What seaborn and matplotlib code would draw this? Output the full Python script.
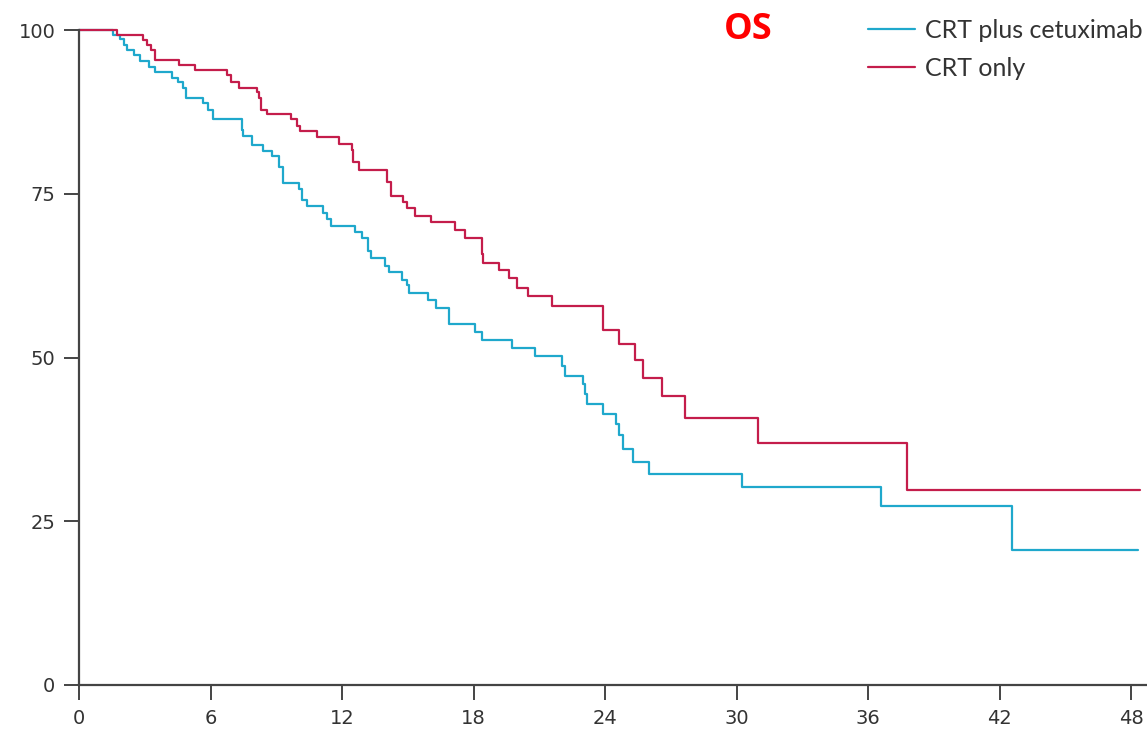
import numpy as np
import pandas as pd
import matplotlib
matplotlib.use("Agg")
import matplotlib.pyplot as plt
import seaborn as sns

# Kaplan-Meier steps (months, % surviving)
cetux_months = [0, 1.57, 1.87, 2.05, 2.18, 2.51, 2.78, 3.21, 3.47, 4.23, 4.5, 4.73, 4.88,
                5.67, 5.9, 6.1, 7.42, 7.5, 7.88, 8.38, 8.79, 9.14, 9.29, 10.05, 10.16,
                10.39, 11.15, 11.3, 11.5, 12.6, 12.9, 13.17, 13.32, 13.96, 14.16, 14.72,
                14.95, 15.07, 15.9, 16.29, 16.9, 18.07, 18.37, 19.74, 20.8, 22.02, 22.17,
                23.0, 23.08, 23.19, 23.92, 24.49, 24.64, 24.83, 25.29, 26.02, 30.23, 36.6,
                42.55, 48.3]
cetux_os = [100, 99.2, 98.6, 97.7, 96.9, 96.2, 95.2, 94.4, 93.6, 92.7, 92.1, 91.1, 89.6,
            88.8, 87.8, 86.4, 84.7, 83.8, 82.4, 81.5, 80.7, 79.1, 76.7, 75.8, 74.0,
            73.1, 72.1, 71.1, 70.1, 69.2, 68.3, 66.2, 65.2, 64.0, 63.0, 61.8,
            61.1, 59.9, 58.8, 57.5, 55.1, 53.9, 52.7, 51.4, 50.2, 48.7, 47.2,
            46.0, 44.4, 42.9, 41.4, 39.8, 38.1, 36.1, 34.1, 32.2, 30.3, 27.3,
            20.6, 20.6]

crt_months = [0, 1.72, 2.9, 3.1, 3.3, 3.47, 4.58, 5.3, 6.74, 6.92, 7.3, 8.1, 8.23, 8.3,
              8.56, 9.66, 9.96, 10.1, 10.88, 11.88, 12.44, 12.5, 12.79, 14.07, 14.22,
              14.77, 14.98, 15.33, 16.06, 17.15, 17.6, 18.37, 18.45, 19.17, 19.63, 20.0,
              20.47, 21.56, 23.92, 24.65, 25.36, 25.75, 26.58, 27.65, 30.96, 37.79, 48.4]
crt_os = [100, 99.2, 98.5, 97.7, 96.9, 95.4, 94.6, 93.9, 93.1, 92.1, 91.1, 90.6, 89.6, 87.8,
          87.2, 86.4, 85.3, 84.6, 83.6, 82.6, 81.7, 79.9, 78.6, 76.8, 74.7,
          73.8, 72.8, 71.6, 70.7, 69.5, 68.3, 65.8, 64.5, 63.4, 62.1, 60.6,
          59.4, 57.9, 54.2, 52.0, 49.6, 46.8, 44.1, 40.8, 37.0, 29.7, 29.7]

arms = ["CRT plus cetuximab", "CRT only"]
colors = ["#1fa8cc", "#c41d4b"]
x_ticks = [0, 6, 12, 18, 24, 30, 36, 42, 48]
y_ticks = [0, 25, 50, 75, 100]

df = pd.concat([
    pd.DataFrame({"month": cetux_months, "os": cetux_os, "arm": arms[0]}),
    pd.DataFrame({"month": crt_months, "os": crt_os, "arm": arms[1]}),
])

sns.set_style("ticks")
plt.rcParams["font.family"] = ["DejaVu Sans"]

fig = plt.figure(figsize=(11.47, 7.31), dpi=100)
ax = fig.add_axes([79 / 1147, 1 - 685 / 731, 1068 / 1147, 655 / 731])

sns.lineplot(data=df, x="month", y="os", hue="arm", hue_order=arms, palette=colors,
             drawstyle="steps-post", estimator=None, sort=False, linewidth=1.6, ax=ax)
for ln in ax.lines:
    ln.set_clip_on(False)

ax.set_xlim(0, 1068 / 21.92)
ax.set_ylim(0, 100)
ax.set_xticks(x_ticks)
ax.set_yticks(y_ticks)
ax.set_xlabel("")
ax.set_ylabel("")
sns.despine(ax=ax)
for s in ["left", "bottom"]:
    ax.spines[s].set_color("#444444")
    ax.spines[s].set_linewidth(1.6)
ax.tick_params(length=11, width=1.4, color="#444444", labelcolor="#333333",
               labelsize=14, pad=6)

# legend sits in the top right corner, no frame
leg = ax.legend(loc="upper right", bbox_to_anchor=(1143 / 1147, 1 - 19 / 731),
                bbox_transform=fig.transFigure, frameon=False, borderaxespad=0,
                borderpad=0, handlelength=1.9, handletextpad=0.4, labelspacing=0.58,
                prop={"family": "Lato", "size": 18})
for t in leg.get_texts():
    t.set_color("#333333")

fig.text(748 / 1147, 1 - 30 / 731, "OS", color="#ff0000", fontsize=26,
         fontweight="bold", family="Open Sans", ha="center", va="center")

fig.savefig("out.png", dpi=100)
